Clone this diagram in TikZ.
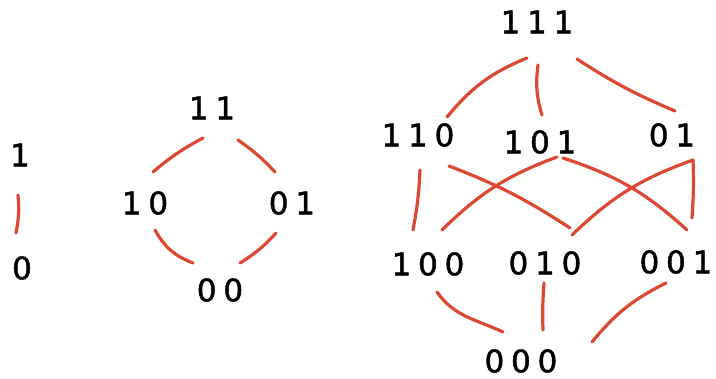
\documentclass[tikz,border=0pt]{standalone}
\usepackage{fontspec}
\newfontfamily\handfont[LetterSpace=22,FakeBold=1.5]{DejaVu Sans}
\definecolor{edgered}{RGB}{221,72,52}
\begin{document}
\begin{tikzpicture}[x=1pt,y=-1pt,
  lbl/.style={inner sep=0pt,font=\handfont\fontsize{31}{33}\selectfont,text=black},
  edge/.style={draw=edgered,line width=3.2pt,line cap=round}]
\useasboundingbox (0,0) rectangle (716,379);
% lattice 1
\node[lbl] (a1) at (20,155) {1};
\node[lbl] (a0) at (22,268) {0};
\draw[edge] ([shift={(-2,40)}]a1.center) to[bend left=8] ([shift={(-6,-35)}]a0.center);
% lattice 2
\node[lbl] (b11) at (212,108) {11};
\node[lbl] (b10) at (145,203) {10};
\node[lbl] (b01) at (292,203) {01};
\node[lbl] (b00) at (220,290) {00};
\draw[edge] ([shift={(-9,30)}]b11.center) to[bend right=6] ([shift={(8,-31)}]b10.center);
\draw[edge] ([shift={(26,32)}]b11.center) to[bend left=6] ([shift={(-17,-31)}]b01.center);
\draw[edge] ([shift={(10,27)}]b10.center) to[bend right=20] ([shift={(-27,-27)}]b00.center);
\draw[edge] ([shift={(-16,30)}]b01.center) to[bend left=8] ([shift={(20,-27)}]b00.center);
% lattice 3
\node[lbl] (c111) at (537,22) {111};
\node[lbl] (c110) at (418,135) {110};
\node[lbl] (c101) at (540,142) {101};
\node[lbl] (c011) at (672,135) {01};
\node[lbl] (c100) at (428,264) {100};
\node[lbl] (c010) at (545,263) {010};
\node[lbl] (c001) at (676,262) {001};
\node[lbl] (c000) at (521,361) {000};
\draw[edge] ([shift={(-10,36)}]c111.center) to[bend right=14] ([shift={(29,-18)}]c110.center);
\draw[edge] ([shift={(1,43)}]c111.center) to[bend right=12] ([shift={(2,-27)}]c101.center);
\draw[edge] ([shift={(40,37)}]c111.center) to[bend right=5] ([shift={(3,-24)}]c011.center);
\draw[edge] ([shift={(2,35)}]c110.center) to[bend left=4] ([shift={(-15,-34)}]c100.center);
\draw[edge] ([shift={(31,31)}]c110.center) to[bend left=6] ([shift={(25,-35)}]c010.center);
\draw[edge] ([shift={(17,15)}]c101.center) to[bend right=12] ([shift={(14,-34)}]c100.center);
\draw[edge] ([shift={(23,16)}]c101.center) to[bend left=12] ([shift={(11,-32)}]c001.center);
\draw[edge] ([shift={(21,25)}]c011.center) to[bend right=12] ([shift={(27,-28)}]c010.center);
\draw[edge] ([shift={(21,25)}]c011.center) to[bend left=3] ([shift={(16,-44)}]c001.center);
\draw[edge] ([shift={(9,28)}]c100.center) to[out=-55,in=155] ([shift={(-18,-29)}]c000.center);
\draw[edge] ([shift={(-1,20)}]c010.center) to[bend right=3] ([shift={(22,-31)}]c000.center);
\draw[edge] ([shift={(-10,21)}]c001.center) to[bend right=12] ([shift={(71,-19)}]c000.center);
\end{tikzpicture}
\end{document}
